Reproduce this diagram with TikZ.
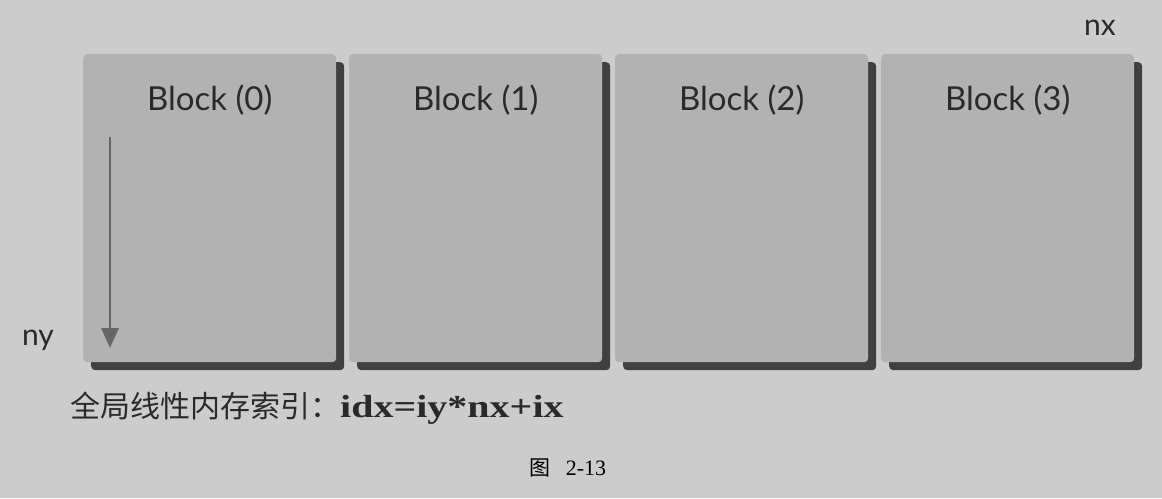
\documentclass[tikz,border=0pt]{standalone}
\usepackage{fontspec}
\usetikzlibrary{shadows,arrows.meta}
\setmainfont{Liberation Serif}
\newfontfamily\capserif[FakeStretch=1.25]{Liberation Serif}
\newfontfamily\blockfont{Lato}
\newfontfamily\cjk{Noto Sans CJK SC}
\definecolor{bgc}{HTML}{CCCCCC}
\definecolor{blockc}{HTML}{B2B2B2}
\definecolor{shadowc}{HTML}{404040}
\definecolor{arrowc}{HTML}{666666}
\definecolor{textc}{HTML}{2A2A2A}
\begin{document}
\begin{tikzpicture}[x=1pt,y=-1pt,
  blockbox/.style={fill=blockc, draw=none, rounded corners=4pt,
    minimum width=253pt, minimum height=308pt, anchor=north west,
    drop shadow={shadow xshift=8pt, shadow yshift=-8pt, fill=shadowc, opacity=1}},
  blocklabel/.style={font=\blockfont\fontsize{33}{36}\selectfont, text=textc, inner sep=0pt},
  axislabel/.style={font=\blockfont\fontsize{30}{33}\selectfont, text=textc, inner sep=0pt}]
\fill[bgc] (0,0) rectangle (1162,498);
\useasboundingbox (0,0) rectangle (1162,498);
\foreach \i/\x in {0/83,1/349,2/615,3/881}{
  \node[blockbox] (b\i) at (\x,54) {};
  \node[blocklabel] (l\i) at ([yshift=-46pt]b\i.north) {Block (\i)};
}
\coordinate (as) at (110,137);
\coordinate (ae) at (110,348);
\draw[arrowc, line width=2.8pt, -{Triangle[length=20pt,width=17pt]}] (as) -- (ae);
\node[axislabel] (ny) at (38,340) {ny};
\node[axislabel] (nx) at (1100,28) {nx};
\node[anchor=west, inner sep=0pt, text=textc] (cap) at (70,408)
  {{\cjk\fontsize{30}{34}\selectfont 全局线性内存索引：}{\capserif\bfseries\fontsize{32}{36}\selectfont idx=iy*nx+ix}};
\node[inner sep=0pt, text=black] (fig) at (568,468)
  {{\cjk\fontsize{21}{24}\selectfont 图}\hspace{15pt}{\fontsize{22}{24}\selectfont 2-13}};
\end{tikzpicture}
\end{document}
